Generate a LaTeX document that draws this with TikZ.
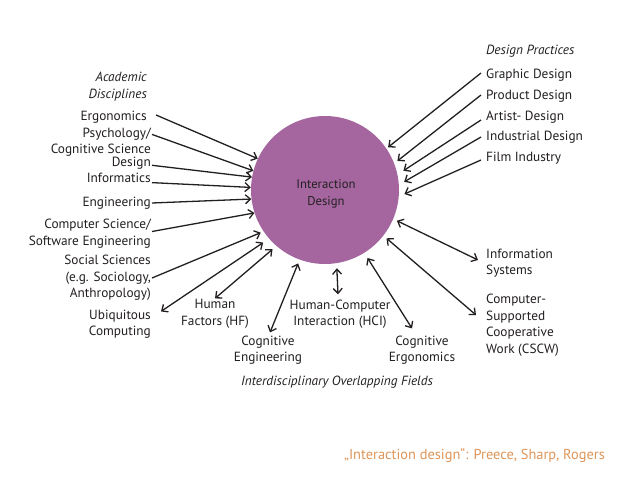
\documentclass[tikz,border=0pt]{standalone}
\usepackage{fontspec}
\setmainfont{PT Sans}
\usetikzlibrary{arrows.meta}

\definecolor{ink}{RGB}{35,31,32}
\definecolor{mauve}{RGB}{165,102,160}
\definecolor{citeorange}{RGB}{222,150,90}

\tikzset{
  lbl/.style={inner sep=1pt, text=ink, font=\fontsize{13.3}{16.5}\selectfont},
  heading/.style={lbl, font=\fontsize{13.3}{16.5}\selectfont\itshape},
  feed/.style={-{Straight Barb[length=5pt,width=9pt]}, line width=1.3pt, draw=ink},
  link/.style={{Straight Barb[length=5pt,width=9pt]}-{Straight Barb[length=5pt,width=9pt]}, line width=1.3pt, draw=ink}
}

\begin{document}
\begin{tikzpicture}[x=1pt, y=-1pt]
  \useasboundingbox[fill=white] (0,0) rectangle (638,479);

  \node[circle, fill=mauve, minimum size=148pt, inner sep=0pt] (idc) at (325,190) {};
  \node[lbl, align=center, font=\fontsize{12.7}{17}\selectfont] (idtext) at (326,194) {Interaction\\Design};

  % academic disciplines
  \node[heading, anchor=east, align=right] (acad) at (148,86.5) {Academic\\Disciplines};
  \node[lbl, anchor=east] (ergo) at (148,117) {Ergonomics};
  \node[lbl, anchor=east, align=right] (psy) at (152,142) {Psychology/\\Cognitive Science};
  \node[lbl, anchor=east] (des) at (152,163) {Design};
  \node[lbl, anchor=east] (inf) at (152,178) {Informatics};
  \node[lbl, anchor=east] (eng) at (152,203) {Engineering};
  \node[lbl, anchor=east, align=right] (cs) at (152,233.5) {Computer Science/\\Software Engineering};
  \node[lbl, anchor=east, align=right] (soc) at (152,278) {Social Sciences\\(e.g. Sociology,\\Anthropology)};

  % interdisciplinary overlapping fields
  \node[lbl, anchor=east, align=right] (ubi) at (152,324) {Ubiquitous\\Computing};
  \node[lbl, align=center] (hf) at (215,314) {Human\\Factors (HF)};
  \node[lbl, align=center] (ce) at (268,350) {Cognitive\\Engineering};
  \node[lbl, align=center] (hci) at (340,314) {Human-Computer\\Interaction (HCI)};
  \node[lbl, align=center] (cer) at (422,350) {Cognitive\\Ergonomics};
  \node[heading] (idf) at (337,382) {Interdisciplinary Overlapping Fields};
  \node[lbl, anchor=west, align=left] (is) at (485,263) {Information\\Systems};
  \node[lbl, anchor=west, align=left] (cscw) at (485,325) {Computer-\\Supported\\Cooperative\\Work (CSCW)};

  % design practices
  \node[heading, anchor=west] (dp) at (485,51) {Design Practices};
  \node[lbl, anchor=west] (gd) at (485,75) {Graphic Design};
  \node[lbl, anchor=west] (pd) at (485,96) {Product Design};
  \node[lbl, anchor=west] (ad) at (485,117) {Artist- Design};
  \node[lbl, anchor=west] (ind) at (485,137) {Industrial Design};
  \node[lbl, anchor=west] (fi) at (485,158) {Film Industry};

  \node[inner sep=0pt, anchor=east, text=citeorange, font=\fontsize{14.4}{16}\selectfont] (cite) at (605,455) {„Interaction design“: Preece, Sharp, Rogers};

  \draw[feed] ([xshift=8pt,yshift=2pt]ergo.east) -- (idc.155);
  \draw[feed] ([yshift=-8pt]psy.north east) -- (idc.165);
  \draw[feed] ([yshift=1pt]des.base east) -- (idc.170);
  \draw[feed] (inf.base east) -- (idc.178);
  \draw[feed] (eng.east) -- (idc.187);
  \draw[feed] ([yshift=2pt]cs.east) -- (idc.198);
  \draw[feed, shorten >=3pt] (soc.east) -- (idc.214);
  \draw[link, shorten >=7pt] ([xshift=9pt,yshift=-3pt]ubi.north east) -- (idc.221);
  \draw[link, shorten >=5pt] (hf.north) -- (idc.229);
  \draw[link, shorten >=4pt] ([xshift=2pt,yshift=2pt]ce.north) -- (idc.250);
  \draw[link, shorten >=5pt] ([xshift=-2pt,yshift=4pt]hci.north) -- (idc.279);
  \draw[link, shorten >=6pt] ([xshift=-10pt,yshift=6pt]cer.north) -- (idc.302);
  \draw[link, shorten >=4pt] ([xshift=-7pt,yshift=3pt]is.west) -- (idc.337);
  \draw[link, shorten >=4pt] ([xshift=-9pt,yshift=10pt]cscw.west) -- (idc.322);

  \draw[feed, shorten >=2pt] ([xshift=-4pt,yshift=2pt]gd.west) -- (idc.34);
  \draw[feed, shorten >=4pt] ([xshift=-4pt,yshift=1pt]pd.west) -- (idc.21);
  \draw[feed, shorten >=7pt] ([xshift=-4pt,yshift=-3pt]ad.west) -- (idc.12);
  \draw[feed, shorten >=6pt] ([xshift=-4pt]ind.west) -- (idc.4);
  \draw[feed, shorten >=6pt] ([xshift=-4pt,yshift=-2pt]fi.west) -- (idc.355);
\end{tikzpicture}
\end{document}
